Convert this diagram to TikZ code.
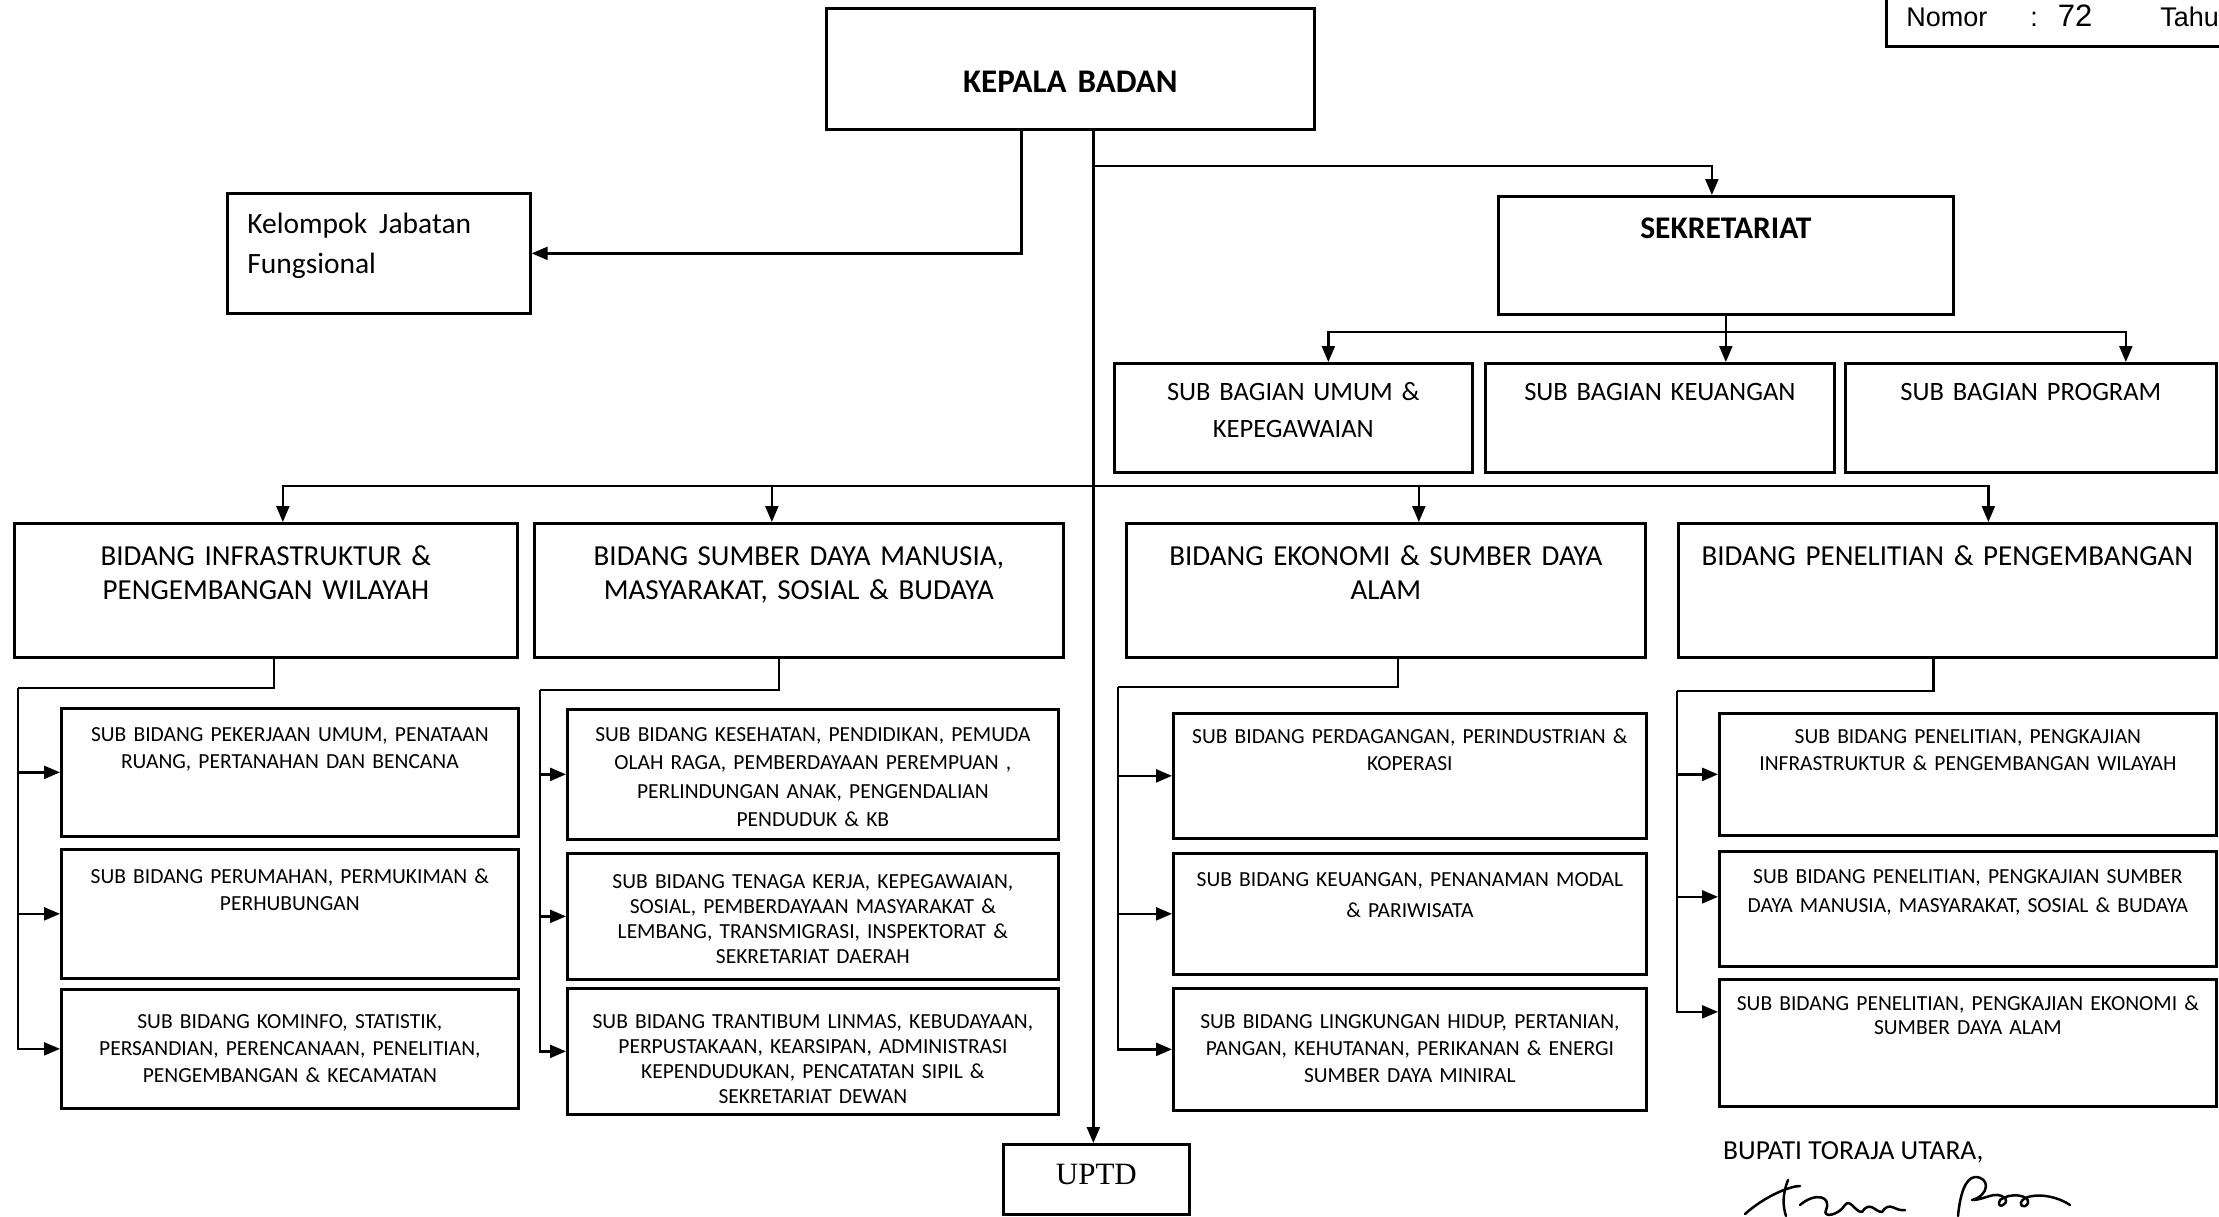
\documentclass[tikz,border=0pt]{standalone}
\usepackage{fontspec}
\setmainfont{Carlito}
\newfontfamily\serifuptd{Liberation Serif}
\newfontfamily\sansnomor{Liberation Sans}
\usetikzlibrary{arrows.meta}

\begin{document}
\begin{tikzpicture}[x=1pt, y=-1pt, line width=2.3pt, >={Triangle[length=16pt,width=13pt]},
  box/.style = {draw, line width=2.7pt, inner sep=0pt, align=center, anchor=north west},
  kepala/.style = {box, font=\fontsize{33}{40}\selectfont\bfseries},
  bidang/.style = {box, text height=42pt, text depth=92pt, font=\fontsize{29}{34}\selectfont},
  subbag/.style = {box, text height=37pt, text depth=72pt, font=\fontsize{26.5}{37}\selectfont},
  subbid/.style = {box, font=\fontsize{21.5}{27}\selectfont}]
\useasboundingbox (0,0) rectangle (2219,1216);

% header
\node[box, anchor=south west, inner xsep=20pt, text height=58pt, text depth=20pt, font=\sansnomor\fontsize{27}{32}\selectfont] (nomor) at (1885,48) {Nomor\hspace{43pt}:\hspace{20pt}{\fontsize{31}{32}\selectfont 72}\hspace{68pt}Tahun\hspace{100pt}};

% pimpinan
\node[kepala, text width=488pt, text height=84pt, text depth=37pt] (kepala) at (825,7) {KEPALA BADAN};
\node[box, align=left, text width=263pt, inner xsep=20pt, text height=40pt, text depth=80pt, font=\fontsize{29.5}{40}\selectfont] (kelompok) at (226,192) {Kelompok\hspace{12pt}Jabatan\\Fungsional};
\node[kepala, text width=455pt, text height=42pt, text depth=76pt, font=\fontsize{31.5}{38}\selectfont\bfseries] (sekr) at (1497,195) {SEKRETARIAT};

% sub bagian
\node[subbag, text width=358pt] (sb1) at (1113,362) {SUB BAGIAN UMUM \&\\KEPEGAWAIAN};
\node[subbag, text width=349pt] (sb2) at (1484,362) {SUB BAGIAN KEUANGAN};
\node[subbag, text width=371pt] (sb3) at (1844,362) {SUB BAGIAN PROGRAM};

% bidang
\node[bidang, text width=503pt] (bid1) at (13,522) {BIDANG INFRASTRUKTUR \&\\PENGEMBANGAN WILAYAH};
\node[bidang, text width=529pt] (bid2) at (533,522) {BIDANG SUMBER DAYA MANUSIA,\\MASYARAKAT, SOSIAL \& BUDAYA};
\node[bidang, text width=519pt] (bid3) at (1125,522) {BIDANG EKONOMI \& SUMBER DAYA\\ALAM};
\node[bidang, text width=538pt] (bid4) at (1677,522) {BIDANG PENELITIAN \& PENGEMBANGAN};

% sub bidang
\node[subbid, text width=457pt, text height=33pt, text depth=95pt] (s11) at (60,707) {SUB BIDANG PEKERJAAN UMUM, PENATAAN\\RUANG, PERTANAHAN DAN BENCANA};
\node[subbid, text width=457pt, text height=34pt, text depth=95pt] (s12) at (60,848) {SUB BIDANG PERUMAHAN, PERMUKIMAN \&\\PERHUBUNGAN};
\node[subbid, text width=457pt, text height=39pt, text depth=80pt] (s13) at (60,988) {SUB BIDANG KOMINFO, STATISTIK,\\PERSANDIAN, PERENCANAAN, PENELITIAN,\\PENGEMBANGAN \& KECAMATAN};

\node[subbid, text width=491pt, text height=32pt, text depth=98pt, font=\fontsize{21.5}{28.5}\selectfont] (s21) at (566,708) {SUB BIDANG KESEHATAN, PENDIDIKAN, PEMUDA\\OLAH RAGA, PEMBERDAYAAN PEREMPUAN ,\\PERLINDUNGAN ANAK, PENGENDALIAN\\PENDUDUK \& KB};
\node[subbid, text width=491pt, text height=35pt, text depth=91pt, font=\fontsize{21.5}{25}\selectfont] (s22) at (566,852) {SUB BIDANG TENAGA KERJA, KEPEGAWAIAN,\\SOSIAL, PEMBERDAYAAN MASYARAKAT \&\\LEMBANG, TRANSMIGRASI, INSPEKTORAT \&\\SEKRETARIAT DAERAH};
\node[subbid, text width=491pt, text height=40pt, text depth=86pt, font=\fontsize{21.5}{25}\selectfont] (s23) at (566,987) {SUB BIDANG TRANTIBUM LINMAS, KEBUDAYAAN,\\PERPUSTAKAAN, KEARSIPAN, ADMINISTRASI\\KEPENDUDUKAN, PENCATATAN SIPIL \&\\SEKRETARIAT DEWAN};

\node[subbid, text width=473pt, text height=30pt, text depth=95pt] (s31) at (1172,712) {SUB BIDANG PERDAGANGAN, PERINDUSTRIAN \&\\KOPERASI};
\node[subbid, text width=473pt, text height=33pt, text depth=88pt, font=\fontsize{21.5}{31}\selectfont] (s32) at (1172,852) {SUB BIDANG KEUANGAN, PENANAMAN MODAL\\\& PARIWISATA};
\node[subbid, text width=473pt, text height=40pt, text depth=82pt] (s33) at (1172,987) {SUB BIDANG LINGKUNGAN HIDUP, PERTANIAN,\\PANGAN, KEHUTANAN, PERIKANAN \& ENERGI\\SUMBER DAYA MINIRAL};

\node[subbid, text width=497pt, text height=30pt, text depth=92pt] (s41) at (1718,712) {SUB BIDANG PENELITIAN, PENGKAJIAN\\INFRASTRUKTUR \& PENGEMBANGAN WILAYAH};
\node[subbid, text width=497pt, text height=32pt, text depth=83pt, font=\fontsize{21.5}{29}\selectfont] (s42) at (1718,850) {SUB BIDANG PENELITIAN, PENGKAJIAN SUMBER\\DAYA MANUSIA, MASYARAKAT, SOSIAL \& BUDAYA};
\node[subbid, text width=497pt, text height=31pt, text depth=96pt, font=\fontsize{21.5}{24}\selectfont] (s43) at (1718,978) {SUB BIDANG PENELITIAN, PENGKAJIAN EKONOMI \&\\SUMBER DAYA ALAM};

\node[box, text width=186pt, text height=40pt, text depth=30pt, font=\serifuptd\fontsize{31}{36}\selectfont] (uptd) at (1002,1143) {UPTD};

\node[anchor=base west, inner sep=0pt, font=\fontsize{27.5}{32}\selectfont] (bupati) at (1722,1159) {BUPATI TORAJA UTARA,};

% garis komando
\coordinate (trunk) at ([xshift=23pt]kepala.south);
\draw[->] ([xshift=-49pt]kepala.south) |- (kelompok.east);
\draw[->] (trunk) -- (trunk |- uptd.north);
\draw[->] (trunk |- 0,166) -| ([xshift=-14pt]sekr.north);

\draw[->] (sekr.south) -- (sekr.south |- sb2.north);
\draw[->] (sekr.south |- 0,332) -| ([xshift=35pt]sb1.north);
\draw[->] (sekr.south |- 0,332) -| ([xshift=95pt]sb3.north);

\draw[->] (trunk |- 0,486) -| ([xshift=17pt]bid1.north);
\draw[->] (trunk |- 0,486) -| ([xshift=-27pt]bid2.north);
\draw[->] (trunk |- 0,486) -| ([xshift=33pt]bid3.north);
\draw[->] (trunk |- 0,486) -| ([xshift=41pt]bid4.north);

\coordinate (bus1) at (18,688);
\coordinate (bus2) at (540,690);
\coordinate (bus3) at (1118,687);
\coordinate (bus4) at (1677,691);
\draw ([xshift=8pt]bid1.south) |- (bus1);
\draw ([xshift=-20pt]bid2.south) |- (bus2);
\draw ([xshift=12pt]bid3.south) |- (bus3);
\draw ([xshift=-14pt]bid4.south) |- (bus4);

\draw[->] (bus1) |- (s11.west);
\draw[->] (bus1) |- (s12.west);
\draw[->] (bus1) |- (s13.west);
\draw[->] (bus2) |- (s21.west);
\draw[->] (bus2) |- (s22.west);
\draw[->] (bus2) |- (s23.west);
\draw[->] (bus3) |- (s31.west);
\draw[->] (bus3) |- (s32.west);
\draw[->] (bus3) |- (s33.west);
\draw[->] (bus4) |- (s41.west);
\draw[->] (bus4) |- ([yshift=12pt]s42.west);
\draw[->] (bus4) |- ([yshift=31pt]s43.west);

% paraf
\draw[line width=2.5pt, line cap=round, line join=round]
  (1745,1214) .. controls (1765,1196) and (1790,1186) .. (1800,1186)
  (1788,1180) .. controls (1782,1195) and (1783,1207) .. (1786,1216)
  (1800,1205) .. controls (1815,1192) and (1832,1196) .. (1826,1210) .. controls (1822,1218) and (1838,1216) .. (1845,1205) .. controls (1850,1198) and (1855,1212) .. (1862,1212) .. controls (1870,1200) and (1875,1212) .. (1882,1212) .. controls (1890,1200) and (1895,1212) .. (1905,1210)
  (1958,1216) .. controls (1960,1195) and (1965,1178) .. (1975,1177) .. controls (1990,1177) and (1990,1195) .. (1972,1200) .. controls (1985,1200) and (1995,1190) .. (2005,1198) .. controls (2010,1205) and (1995,1210) .. (2000,1200) .. controls (2010,1192) and (2030,1195) .. (2028,1203) .. controls (2025,1210) and (2015,1205) .. (2025,1198) .. controls (2040,1192) and (2060,1198) .. (2070,1205);
\end{tikzpicture}
\end{document}
